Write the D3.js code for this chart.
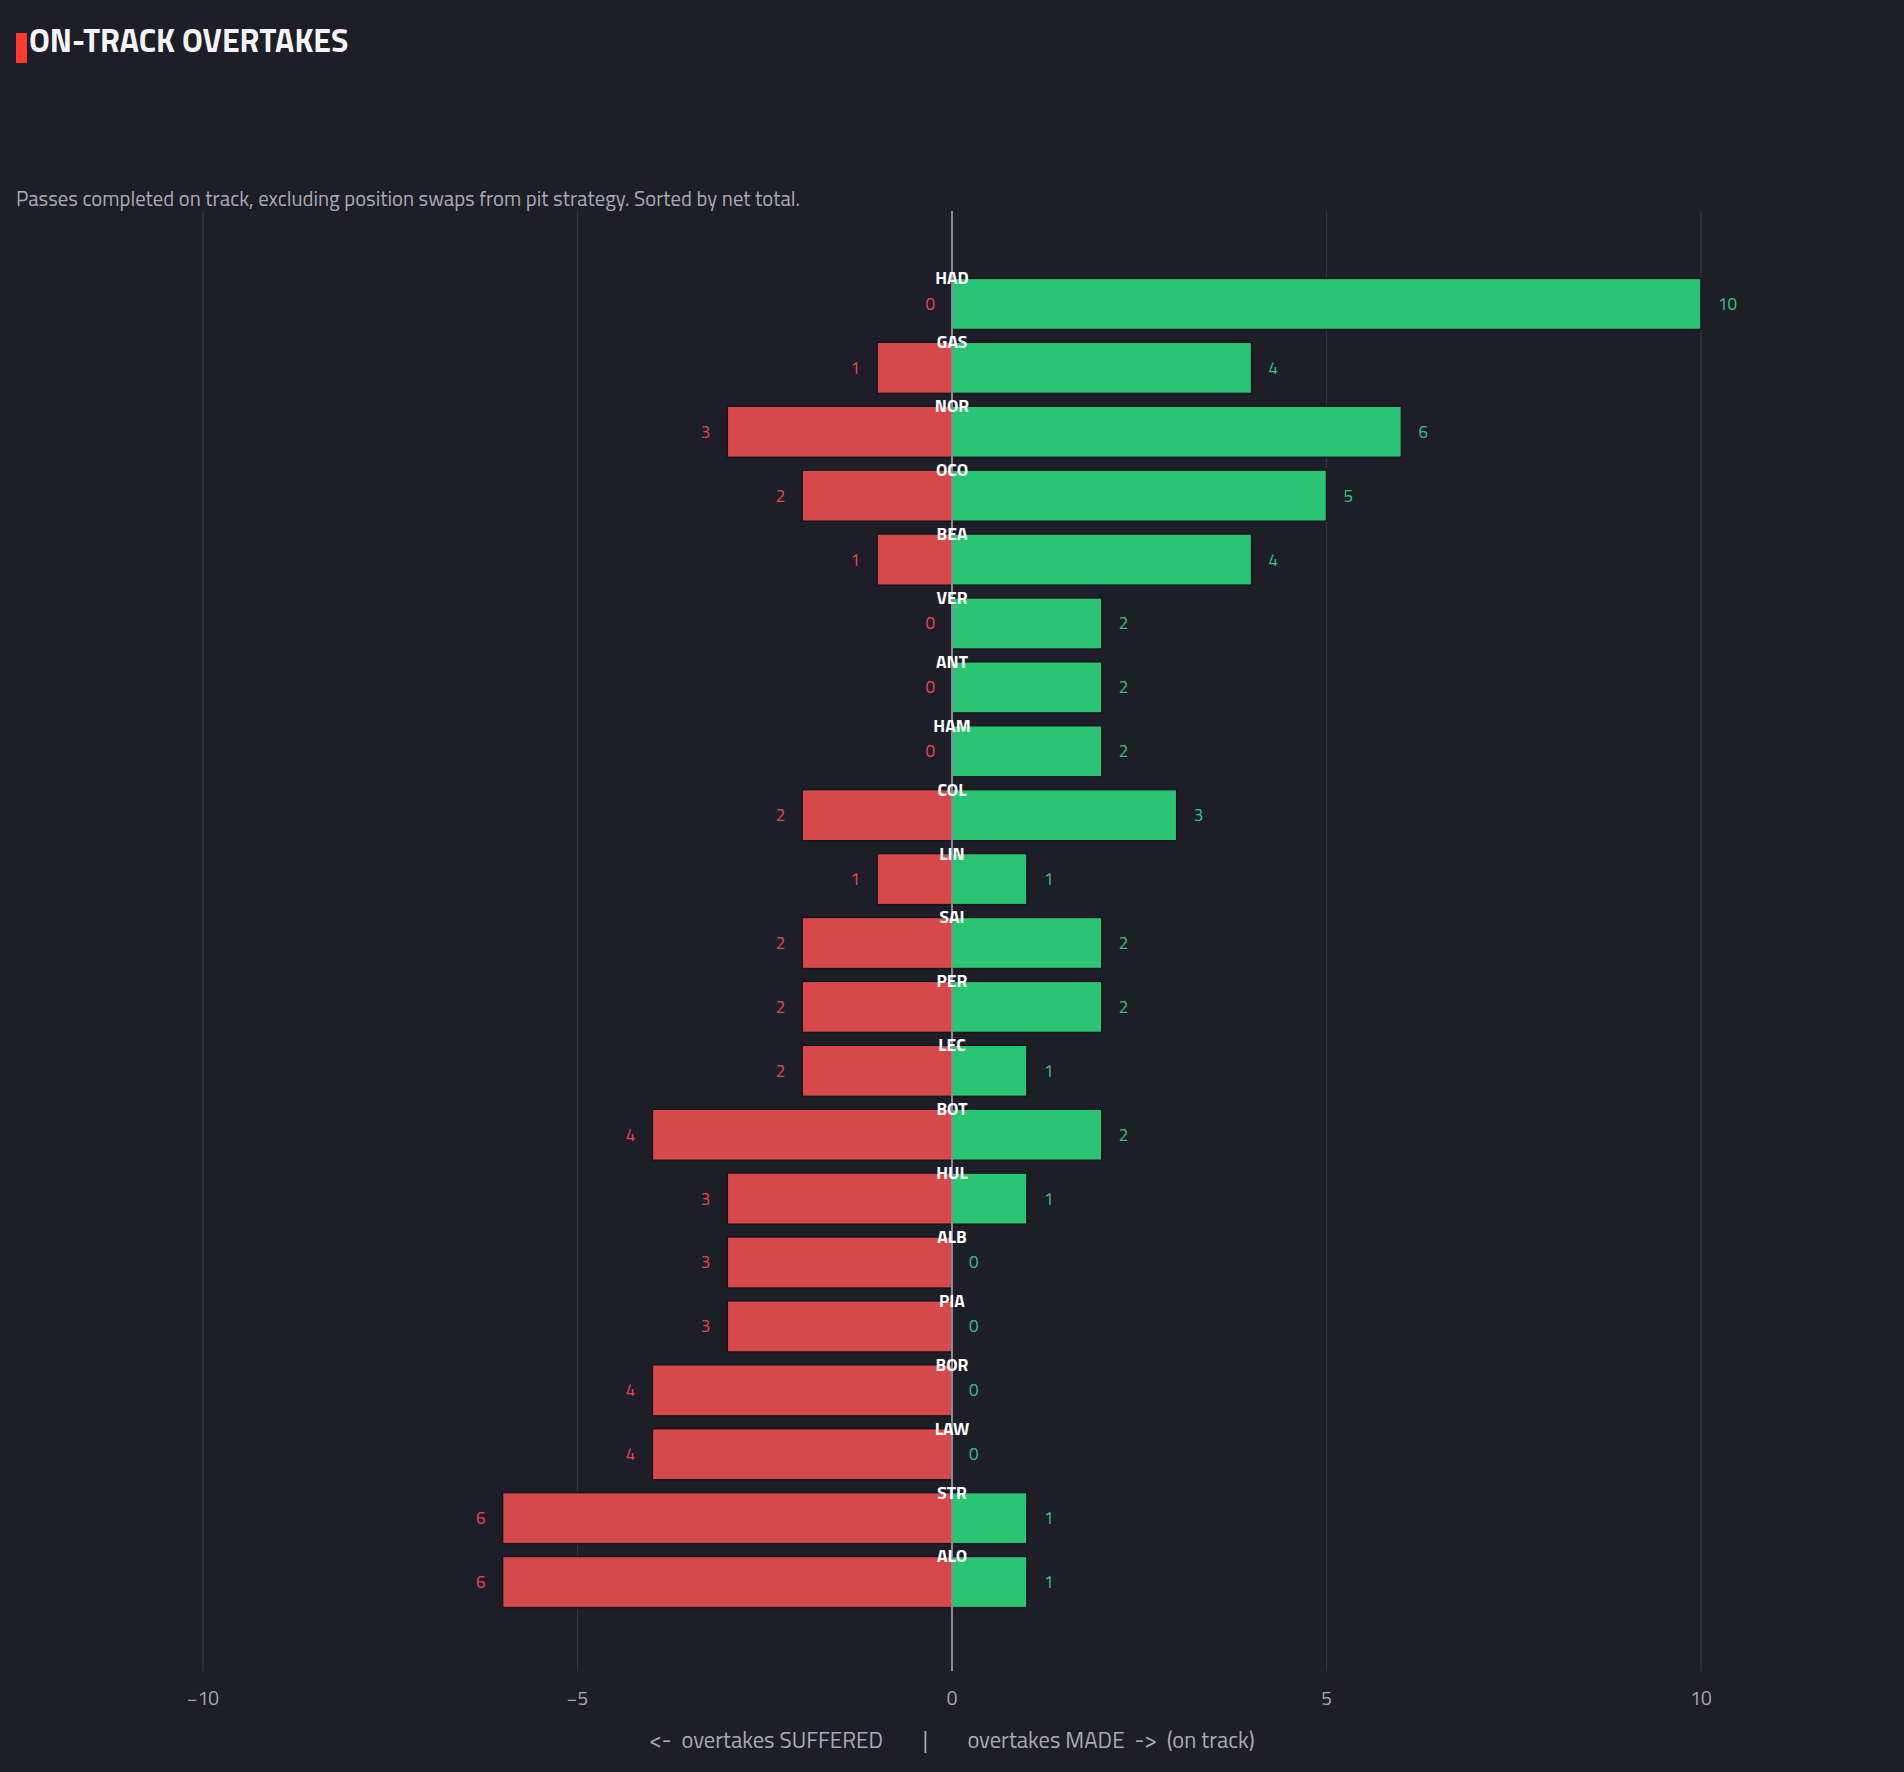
<!DOCTYPE html>
<html>
<head>
<meta charset="utf-8">
<title>on-track overtakes</title>
<script src="https://cdn.jsdelivr.net/npm/d3@7"></script>
<style>
  html, body { margin: 0; padding: 0; background: #1e1e28; }
  svg text { font-family: "Titillium Web", "Liberation Sans Narrow", "DejaVu Sans Condensed", "Roboto", sans-serif; }
</style>
</head>
<body>
<script>
// drivers, top to bottom (sorted by net total)
var drivers = ["HAD","GAS","NOR","OCO","BEA","VER","ANT","HAM","COL","LIN","SAI","PER","LEC","BOT","HUL","ALB","PIA","BOR","LAW","STR","ALO"]
// overtakes made on track
var made = [10,4,6,5,4,2,2,2,3,1,2,2,1,2,1,0,0,0,0,1,1]
// overtakes suffered on track
var suffered = [0,1,3,2,1,0,0,0,2,1,2,2,2,4,3,3,3,4,4,6,6]
var xTicks = [-10,-5,0,5,10]

var w = 1904, h = 1772
var bg = "#1e1e28"
var red = "#dc4a4b", green = "#2bc978"

var svg = d3.select("body").append("svg").attr("width", w).attr("height", h)
svg.append("rect").attr("width", w).attr("height", h).attr("fill", bg)

// scales
var x = d3.scaleLinear().domain([-10, 10]).range([203, 1701])
var y = d3.scaleBand().domain(drivers).range([272, 1614]).paddingInner(0.2).paddingOuter(0.1)
var gridTop = 211, gridBottom = 1671

// title
svg.append("rect").attr("x", 16).attr("y", 33).attr("width", 11).attr("height", 30).attr("fill", "#ff3b30")
svg.append("text").attr("x", 29).attr("y", 52).attr("fill", "#f4f4f6")
  .attr("font-size", 32).attr("font-weight", "bold").text("ON-TRACK OVERTAKES")

// subtitle
svg.append("text").attr("x", 16).attr("y", 206).attr("fill", "#a9a9b3")
  .attr("font-size", 20.7).text("Passes completed on track, excluding position swaps from pit strategy. Sorted by net total.")

// gridlines
svg.append("g").selectAll("line").data(xTicks.filter(function(d){ return d != 0 }))
  .enter().append("line")
  .attr("x1", function(d){ return x(d) }).attr("x2", function(d){ return x(d) })
  .attr("y1", gridTop).attr("y2", gridBottom)
  .attr("stroke", "#34343f").attr("stroke-width", 1.2)

var rows = drivers.map(function(d, i){ return {name: d, made: made[i], suffered: suffered[i]} })

// suffered bars (left)
svg.append("g").selectAll("rect").data(rows).enter().append("rect")
  .attr("x", function(d){ return x(-d.suffered) })
  .attr("y", function(d){ return y(d.name) })
  .attr("width", function(d){ return x(0) - x(-d.suffered) })
  .attr("height", y.bandwidth())
  .attr("fill", red).attr("fill-opacity", 0.97)
  .attr("stroke", "#16161c").attr("stroke-width", 1.5)

// made bars (right)
svg.append("g").selectAll("rect").data(rows).enter().append("rect")
  .attr("x", x(0))
  .attr("y", function(d){ return y(d.name) })
  .attr("width", function(d){ return x(d.made) - x(0) })
  .attr("height", y.bandwidth())
  .attr("fill", green).attr("fill-opacity", 0.97)
  .attr("stroke", "#16161c").attr("stroke-width", 1.5)

// zero line
svg.append("line").attr("x1", x(0)).attr("x2", x(0)).attr("y1", gridTop).attr("y2", gridBottom)
  .attr("stroke", "#8a8a94").attr("stroke-width", 2)

// value labels
svg.append("g").selectAll("text").data(rows).enter().append("text")
  .attr("x", function(d){ return x(-d.suffered) - 17 })
  .attr("y", function(d){ return y(d.name) + y.bandwidth() / 2 })
  .attr("dy", "0.35em").attr("text-anchor", "end")
  .attr("fill", "#e8464a").attr("font-size", 17)
  .text(function(d){ return d.suffered })

svg.append("g").selectAll("text").data(rows).enter().append("text")
  .attr("x", function(d){ return x(d.made) + 17 })
  .attr("y", function(d){ return y(d.name) + y.bandwidth() / 2 })
  .attr("dy", "0.35em").attr("text-anchor", "start")
  .attr("fill", "#2bc978").attr("font-size", 17)
  .text(function(d){ return d.made })

// driver codes on the zero line
svg.append("g").selectAll("text").data(rows).enter().append("text")
  .attr("x", x(0))
  .attr("y", function(d){ return y(d.name) + 6 })
  .attr("text-anchor", "middle")
  .attr("fill", "#ffffff").attr("font-size", 17.5).attr("font-weight", "bold")
  .text(function(d){ return d.name })

// x axis tick labels
svg.append("g").selectAll("text").data(xTicks).enter().append("text")
  .attr("x", function(d){ return x(d) })
  .attr("y", 1705)
  .attr("text-anchor", "middle")
  .attr("fill", "#a9a9b3").attr("font-size", 19)
  .text(function(d){ return d < 0 ? "\u2212" + Math.abs(d) : d })

// axis title (nbsp keeps the wide gaps)
var axisTitle = "<-  overtakes SUFFERED        |        overtakes MADE  ->  (on track)".replace(/ /g, "\u00a0")
svg.append("text").attr("x", x(0)).attr("y", 1740)
  .attr("dy", "0.35em")
  .attr("text-anchor", "middle").attr("fill", "#a9a9b3").attr("font-size", 22.5)
  .text(axisTitle)
</script>
</body>
</html>
